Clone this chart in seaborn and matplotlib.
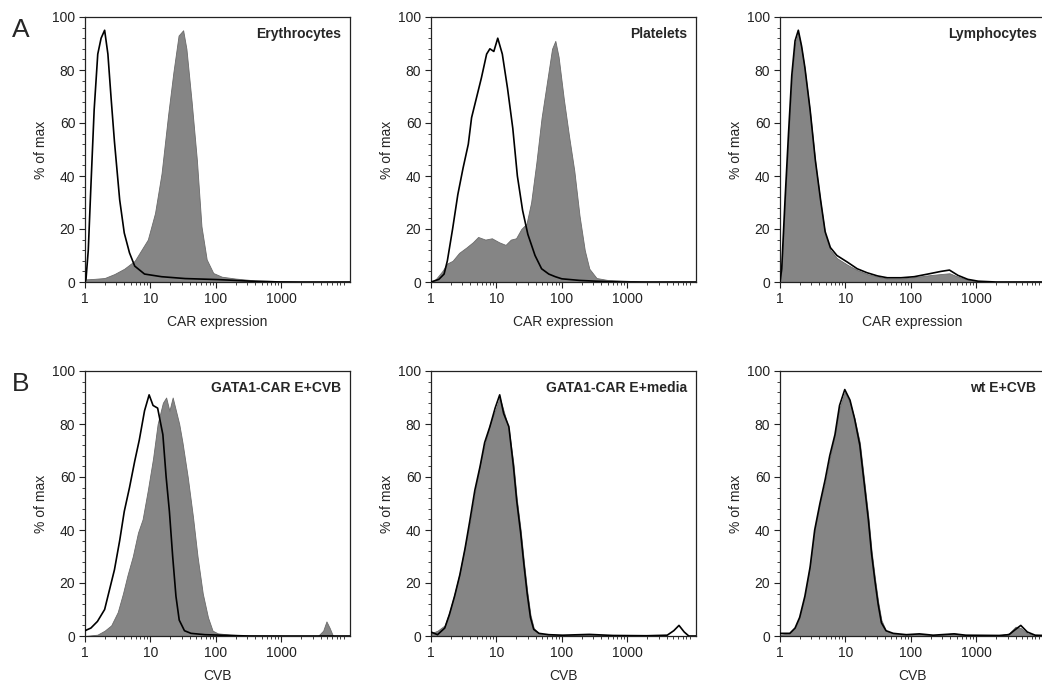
import numpy as np
import matplotlib
matplotlib.use("Agg")
import matplotlib.pyplot as plt
from matplotlib.ticker import FixedLocator, LogLocator, NullFormatter, AutoMinorLocator
import seaborn as sns

# Histogramas: posicao em log10 do canal e % do maximo
# Linha A - expressao de CAR
ery_stain_log = [0, 0.02, 0.15, 0.3, 0.45, 0.6, 0.76, 0.86, 0.96, 1.07, 1.17, 1.27, 1.35, 1.43,
                 1.5, 1.55, 1.63, 1.71, 1.78, 1.86, 1.96, 2.09, 2.3, 2.6, 3.07, 3.3, 4.05]
ery_stain_pct = [0, 1, 1.2, 1.5, 3, 5, 8, 12, 16, 26, 41, 63, 79, 93,
                 95, 88, 68, 46, 21, 8.5, 3.4, 2, 1.3, 0.6, 0.3, 0, 0]
ery_iso_log = [0, 0.015, 0.05, 0.09, 0.14, 0.195, 0.246, 0.30, 0.35, 0.40, 0.45, 0.53, 0.60,
               0.68, 0.76, 0.91, 1.17, 1.53, 2.04, 2.55, 3.0, 4.05]
ery_iso_pct = [0, 1, 12, 36, 65, 86, 92, 95, 86, 69, 53, 31, 18.5,
               11, 6, 3, 2, 1.3, 0.9, 0.3, 0, 0]

plt_stain_log = [0, 0.07, 0.17, 0.25, 0.33, 0.43, 0.54, 0.64, 0.72, 0.83, 0.93, 1.04, 1.14, 1.22,
                 1.30, 1.38, 1.46, 1.53, 1.61, 1.69, 1.77, 1.85, 1.90, 1.95, 2.03, 2.11, 2.19,
                 2.27, 2.35, 2.42, 2.53, 2.69, 3.05, 3.3, 4.05]
plt_stain_pct = [0, 1, 4, 7, 8, 11, 13, 15, 17, 16, 16.5, 15, 14, 16,
                 16.5, 20, 22, 30, 45, 62, 75, 88, 91, 85, 69, 55, 42,
                 25, 12, 5, 1.5, 0.8, 0.4, 0, 0]
plt_iso_log = [0, 0.12, 0.2, 0.25, 0.33, 0.41, 0.49, 0.57, 0.62, 0.70, 0.77, 0.85, 0.90, 0.96,
               1.02, 1.09, 1.17, 1.25, 1.32, 1.40, 1.48, 1.59, 1.69, 1.80, 1.90, 2.0, 2.27,
               2.53, 2.9, 4.05]
plt_iso_pct = [0, 1, 3, 8, 20, 33, 43, 52, 62, 70, 77, 86, 88, 87,
               92, 86, 73, 58, 40, 27, 18, 10, 5, 3, 2, 1.2, 0.6,
               0.3, 0, 0]

lym_log = [0, 0.026, 0.077, 0.13, 0.18, 0.23, 0.28, 0.33, 0.38, 0.46, 0.54, 0.62, 0.69, 0.77,
           0.87, 1.03, 1.18, 1.33, 1.49, 1.64, 1.85, 2.05, 2.26, 2.46, 2.59, 2.72, 2.87, 3.03,
           3.3, 4.05]
lym_stain_pct = [0, 5, 30, 55, 77, 90, 94, 88, 80, 64, 45, 30, 18, 12,
                 9, 6.5, 4.5, 3, 2, 1.3, 1.3, 1.8, 2.5, 3, 3.3, 2, 0.8, 0.3,
                 0, 0]
lym_iso_pct = [0, 5, 31, 56, 78, 91, 95, 89, 81, 65, 46, 31, 19, 13,
               10, 7.5, 5, 3.5, 2.3, 1.6, 1.6, 2, 3, 4, 4.5, 2.5, 1, 0.3,
               0, 0]

# Linha B - ligacao de CVB
g1_stain_log = [0, 0.19, 0.30, 0.40, 0.50, 0.58, 0.65, 0.73, 0.81, 0.88, 0.96, 1.04, 1.11, 1.19,
                1.24, 1.29, 1.34, 1.39, 1.44, 1.49, 1.57, 1.65, 1.72, 1.80, 1.88, 1.95, 2.03,
                2.23, 2.54, 3.2, 3.56, 3.64, 3.69, 3.74, 3.79, 4.05]
g1_stain_pct = [0, 0.5, 2, 4, 9, 16, 23, 30, 39, 44, 55, 67, 80, 88,
                90, 85, 90, 85, 80, 73, 60, 45, 30, 16, 7, 2, 1,
                0.5, 0.2, 0, 0, 2, 5.5, 3, 0, 0]
g1_iso_log = [0, 0.09, 0.19, 0.30, 0.37, 0.45, 0.53, 0.60, 0.68, 0.76, 0.83, 0.91, 0.98, 1.04,
              1.11, 1.19, 1.24, 1.29, 1.34, 1.39, 1.44, 1.52, 1.62, 1.83, 2.23, 2.5, 4.05]
g1_iso_pct = [2, 3, 5.5, 10, 17, 25, 36, 47, 56, 66, 74, 85, 91, 87,
              86, 76, 60, 47, 30, 15, 6, 2, 1, 0.5, 0.2, 0, 0]

g2_log = [0, 0.1, 0.21, 0.28, 0.36, 0.44, 0.52, 0.59, 0.67, 0.75, 0.82, 0.90, 0.98, 1.05,
          1.11, 1.19, 1.26, 1.31, 1.37, 1.42, 1.47, 1.52, 1.57, 1.65, 1.80, 2.01, 2.42, 2.78,
          3.3, 3.61, 3.71, 3.79, 3.87, 3.94, 4.05]
g2_stain_pct = [1, 2, 4, 9, 16, 24, 34, 42, 54, 65, 72, 80, 85, 90,
                85, 78, 65, 52, 40, 28, 17, 8, 3, 1, 0.5, 0.3, 0.4, 0.2,
                0.1, 0, 0, 0, 0, 0, 0]
g2_iso_pct = [1.5, 0.5, 3, 8, 15, 23, 33, 43, 55, 64, 73, 79, 86, 91,
              84, 79, 64, 51, 39, 27, 16, 7, 2.5, 1, 0.5, 0.3, 0.6, 0.2,
              0.1, 0.3, 2, 4, 1.5, 0, 0]

wt_log = [0, 0.15, 0.23, 0.30, 0.38, 0.46, 0.53, 0.61, 0.69, 0.76, 0.84, 0.91, 0.99, 1.07,
          1.14, 1.22, 1.29, 1.35, 1.40, 1.45, 1.50, 1.55, 1.62, 1.73, 1.93, 2.13, 2.34, 2.66,
          2.84, 3.35, 3.50, 3.60, 3.68, 3.78, 3.9, 4.05]
wt_stain_pct = [0.5, 1, 3, 7, 15, 27, 40, 50, 58, 67, 76, 86, 92, 88,
                82, 73, 58, 45, 32, 22, 13, 6, 2, 1, 0.5, 0.8, 0.3, 1,
                0.3, 0.2, 1, 3.5, 3, 1, 0.3, 0.2]
wt_iso_pct = [1, 1, 3, 7, 15, 26, 40, 50, 59, 68, 76, 87, 93, 89,
              82, 72, 57, 44, 31, 21, 12, 5, 2, 1, 0.5, 0.8, 0.3, 0.8,
              0.3, 0.2, 0.5, 2.5, 4, 1.5, 0.3, 0.2]

panel_titles = ["Erythrocytes", "Platelets", "Lymphocytes",
                "GATA1-CAR E+CVB", "GATA1-CAR E+media", "wt E+CVB"]
row_xlabels = ["CAR expression", "CVB"]
row_letters = ["A", "B"]
x_tick_vals = [1, 10, 100, 1000]
x_tick_labels = ["1", "10", "100", "1000"]

paineis = [
    (ery_stain_log, ery_stain_pct, ery_iso_log, ery_iso_pct),
    (plt_stain_log, plt_stain_pct, plt_iso_log, plt_iso_pct),
    (lym_log, lym_stain_pct, lym_log, lym_iso_pct),
    (g1_stain_log, g1_stain_pct, g1_iso_log, g1_iso_pct),
    (g2_log, g2_stain_pct, g2_log, g2_iso_pct),
    (wt_log, wt_stain_pct, wt_log, wt_iso_pct),
]

sns.set_theme(style="ticks")
plt.rcParams["font.family"] = ["Liberation Sans", "DejaVu Sans"]

W, H = 1042, 686
fig = plt.figure(figsize=(W / 100, H / 100), dpi=100)

# posicoes dos eixos em pixels (esquerda, topo)
col_left = [85, 431, 780]
row_top = [17, 371]
ax_w, ax_h = 265, 265

cinza = "#858585"

for i, (s_log, s_pct, i_log, i_pct) in enumerate(paineis):
    r, c = divmod(i, 3)
    ax = fig.add_axes([col_left[c] / W, 1 - (row_top[r] + ax_h) / H, ax_w / W, ax_h / H])
    xs = 10 ** np.array(s_log)
    xi = 10 ** np.array(i_log)
    ax.fill_between(xs, s_pct, 0, color=cinza, edgecolor="#6a6a6a", linewidth=0.6, zorder=2)
    sns.lineplot(x=xi, y=i_pct, ax=ax, color="black", linewidth=1.2, sort=False,
                 estimator=None, zorder=3)
    ax.set_xscale("log")
    ax.set_xlim(1, 10 ** 4.05)
    ax.set_ylim(0, 100)
    ax.xaxis.set_major_locator(FixedLocator(x_tick_vals))
    ax.set_xticklabels(x_tick_labels)
    ax.xaxis.set_minor_locator(LogLocator(base=10, subs=np.arange(2, 10)))
    ax.xaxis.set_minor_formatter(NullFormatter())
    ax.set_yticks([0, 20, 40, 60, 80, 100])
    ax.yaxis.set_minor_locator(AutoMinorLocator(5))
    ax.tick_params(which="major", direction="out", length=4, width=0.8, labelsize=10,
                   pad=3, colors="#222222")
    ax.tick_params(which="minor", direction="out", length=2, width=0.6, colors="#222222")
    for sp in ax.spines.values():
        sp.set_visible(True)
        sp.set_linewidth(0.9)
        sp.set_color("#222222")
    ax.set_xlabel(row_xlabels[r], fontsize=10, labelpad=7)
    ax.set_ylabel("% of max", fontsize=10, labelpad=3)
    ax.text(0.968, 0.962, panel_titles[i], transform=ax.transAxes, ha="right", va="top",
            fontsize=10, fontweight="bold")

for r, letra in enumerate(row_letters):
    fig.text(12 / W, 1 - (row_top[r] + 1) / H, letra, fontsize=19, va="top", ha="left")

fig.savefig("out.png", dpi=100)
